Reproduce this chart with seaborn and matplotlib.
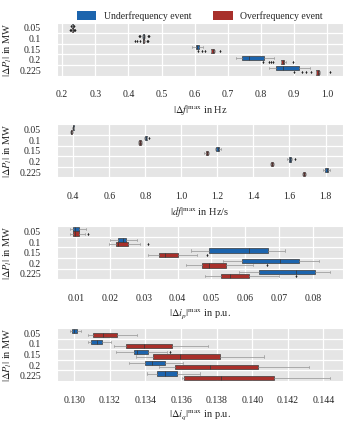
import numpy as np
import pandas as pd
import matplotlib
matplotlib.use("Agg")
import matplotlib.pyplot as plt
from matplotlib.patches import Patch
from matplotlib.ticker import FixedLocator
import seaborn as sns

# categories (|ΔP_l| in MW) and event types
p_steps = ["0.05", "0.1", "0.15", "0.2", "0.225"]
events = ["Underfrequency event", "Overfrequency event"]
colors = ["#1c64ad", "#a8302b"]

# |Δf|max in Hz, one sample list per step
df_under = [
    [0.228, 0.2312, 0.2315, 0.2318, 0.232, 0.2322, 0.2325, 0.2328, 0.236],
    [0.432, 0.436, 0.442, 0.444, 0.445, 0.4455, 0.446, 0.4465, 0.447, 0.448, 0.450, 0.458, 0.462],
    [0.593, 0.600, 0.603, 0.606, 0.608, 0.610, 0.613, 0.619, 0.625],
    [0.725, 0.735, 0.742, 0.752, 0.765, 0.788, 0.808, 0.822, 0.838],
    [0.823, 0.835, 0.845, 0.855, 0.865, 0.890, 0.913, 0.930, 0.948],
]
df_over = [
    [0.224, 0.227, 0.2305, 0.231, 0.2312, 0.2315, 0.2318, 0.232, 0.2322, 0.2325, 0.233, 0.236, 0.239],
    [0.420, 0.427, 0.435, 0.443, 0.444, 0.4445, 0.445, 0.4455, 0.446, 0.447, 0.449, 0.455, 0.460],
    [0.610, 0.622, 0.630, 0.650, 0.652, 0.653, 0.654, 0.655, 0.656, 0.658, 0.660, 0.662, 0.677],
    [0.805, 0.823, 0.830, 0.837, 0.860, 0.862, 0.863, 0.864, 0.865, 0.866, 0.867, 0.868, 0.870,
     0.872, 0.874, 0.876, 0.897],
    [0.900, 0.925, 0.935, 0.950, 0.967, 0.968, 0.969, 0.970, 0.971, 0.972, 0.973, 0.974, 0.976,
     0.977, 0.978, 0.979, 1.008],
]

# |df|max in Hz/s
rocof_under = [
    [0.394, 0.396, 0.397, 0.399, 0.400, 0.401, 0.403, 0.404, 0.406],
    [0.793, 0.796, 0.798, 0.801, 0.803, 0.805, 0.807, 0.810, 0.822],
    [1.185, 1.192, 1.195, 1.199, 1.202, 1.205, 1.208, 1.213, 1.222],
    [1.588, 1.593, 1.596, 1.600, 1.603, 1.606, 1.609, 1.615, 1.632],
    [1.785, 1.795, 1.799, 1.803, 1.806, 1.809, 1.812, 1.818, 1.825],
]
rocof_over = [
    [0.382, 0.385, 0.387, 0.389, 0.390, 0.391, 0.393, 0.395, 0.397],
    [0.762, 0.765, 0.767, 0.769, 0.771, 0.773, 0.775, 0.777, 0.780],
    [1.128, 1.133, 1.136, 1.139, 1.141, 1.143, 1.146, 1.149, 1.153],
    [1.492, 1.495, 1.497, 1.500, 1.502, 1.504, 1.507, 1.509, 1.512],
    [1.672, 1.675, 1.677, 1.680, 1.682, 1.684, 1.687, 1.689, 1.692],
]

# |Δi_p|max in p.u.
ip_under = [
    [0.0083, 0.0087, 0.0091, 0.0095, 0.0098, 0.0103, 0.0108, 0.0118, 0.0128],
    [0.0201, 0.0214, 0.0225, 0.0232, 0.0238, 0.0243, 0.0247, 0.0262, 0.0279],
    [0.0440, 0.0465, 0.0494, 0.0560, 0.0611, 0.0640, 0.0669, 0.0695, 0.0717],
    [0.0535, 0.0560, 0.0590, 0.0650, 0.0702, 0.0730, 0.0759, 0.0790, 0.0817],
    [0.0581, 0.0610, 0.0640, 0.0700, 0.0749, 0.0780, 0.0808, 0.0830, 0.0851],
]
ip_over = [
    [0.0082, 0.0085, 0.0088, 0.0091, 0.0093, 0.0095, 0.0098, 0.0101, 0.0104, 0.0108, 0.0116, 0.0125, 0.0135],
    [0.0198, 0.0205, 0.0212, 0.0218, 0.0220, 0.0223, 0.0225, 0.0235, 0.0245, 0.0255, 0.0270, 0.0289, 0.0313],
    [0.0313, 0.0325, 0.0335, 0.0344, 0.0352, 0.0358, 0.0364, 0.0375, 0.0388, 0.0400, 0.0425, 0.0457, 0.0488],
    [0.0425, 0.0445, 0.0460, 0.0471, 0.0480, 0.0488, 0.0494, 0.0510, 0.0525, 0.0542, 0.0570, 0.0622, 0.0665],
    [0.0481, 0.0500, 0.0515, 0.0530, 0.0540, 0.0548, 0.0554, 0.0570, 0.0590, 0.0611, 0.0650, 0.0700, 0.0749],
]

# |Δi_q|max in p.u.
iq_under = [
    [0.12976, 0.12982, 0.12989, 0.12994, 0.13000, 0.13009, 0.13018, 0.13027, 0.13037],
    [0.13078, 0.13088, 0.13096, 0.13113, 0.13130, 0.13143, 0.13157, 0.13182, 0.13207],
    [0.13235, 0.13270, 0.13305, 0.13337, 0.13345, 0.13350, 0.13355, 0.13375, 0.13395, 0.13414,
     0.13460, 0.13520, 0.13536],
    [0.13309, 0.13350, 0.13396, 0.13415, 0.13438, 0.13470, 0.13507, 0.13560, 0.13610],
    [0.13411, 0.13440, 0.13466, 0.13490, 0.13512, 0.13545, 0.13577, 0.13640, 0.13707],
]
iq_over = [
    [0.13078, 0.13092, 0.13105, 0.13135, 0.13161, 0.13200, 0.13240, 0.13300, 0.13355],
    [0.13226, 0.13260, 0.13290, 0.13340, 0.13390, 0.13470, 0.13550, 0.13650, 0.13749],
    [0.13346, 0.13400, 0.13444, 0.13520, 0.13596, 0.13710, 0.13821, 0.13950, 0.14067],
    [0.13475, 0.13520, 0.13564, 0.13660, 0.13762, 0.13900, 0.14030, 0.14180, 0.14321],
    [0.13605, 0.13612, 0.13618, 0.13720, 0.13827, 0.13980, 0.14123, 0.14280, 0.14437],
]

panels = [
    (df_under, df_over, r"$|\Delta f|^{\max}$ in Hz"),
    (rocof_under, rocof_over, r"$|df|^{\max}$ in Hz/s"),
    (ip_under, ip_over, r"$|\Delta i_p|^{\max}$ in p.u."),
    (iq_under, iq_over, r"$|\Delta i_q|^{\max}$ in p.u."),
]


def to_long(under, over):
    rows = []
    for ev, groups in zip(events, [under, over]):
        for step, vals in zip(p_steps, groups):
            for v in vals:
                rows.append({"step": step, "event": ev, "value": v})
    return pd.DataFrame(rows)


sns.set_style("darkgrid", {"axes.facecolor": "#e5e5e5", "grid.color": "white"})
plt.rcParams["font.family"] = ["Liberation Serif", "DejaVu Serif"]
plt.rcParams["mathtext.fontset"] = "stix"

fig, axes = plt.subplots(4, 1, figsize=(3.54, 4.28), dpi=100)
fig.subplots_adjust(left=0.161, right=0.969, top=0.947, bottom=0.110, hspace=0.92)

for ax, (under, over, xlabel) in zip(axes, panels):
    data = to_long(under, over)
    sns.boxplot(data=data, x="value", y="step", hue="event", order=p_steps,
                hue_order=events, palette=colors, saturation=1, width=0.8,
                linewidth=0.5, fliersize=1.2, legend=False, ax=ax,
                whiskerprops={"color": "#a0a0a0", "linewidth": 0.6},
                capprops={"color": "#a0a0a0", "linewidth": 0.6},
                medianprops={"color": "#333333", "linewidth": 0.5},
                flierprops={"marker": "d", "markersize": 1.2,
                            "markeredgewidth": 0.3,
                            "markerfacecolor": "#222222",
                            "markeredgecolor": "#222222"})
    ax.set_ylim(4.5, -0.5)
    ax.yaxis.set_minor_locator(FixedLocator([0.5, 1.5, 2.5, 3.5]))
    ax.grid(False, axis="y", which="major")
    ax.grid(True, axis="y", which="minor", color="white", linewidth=0.9)
    ax.grid(True, axis="x", which="major", color="white", linewidth=0.9)
    ax.tick_params(axis="y", which="minor", length=0)
    ax.tick_params(axis="x", labelsize=7, pad=7)
    ax.tick_params(axis="y", labelsize=7, pad=8)
    ax.set_xlabel(xlabel, fontsize=7.5, labelpad=3)
    ax.set_ylabel(r"$|\Delta P_l|$ in MW", fontsize=7.5, labelpad=4)

handles = [Patch(facecolor=c, edgecolor="none") for c in colors]
fig.legend(handles, events, loc="center", bbox_to_anchor=(0.565, 1 - 16 / 428),
           ncol=2, frameon=False, fontsize=7, handlelength=2.0, handleheight=0.9,
           columnspacing=2.2)

fig.savefig("out.png", dpi=100)
